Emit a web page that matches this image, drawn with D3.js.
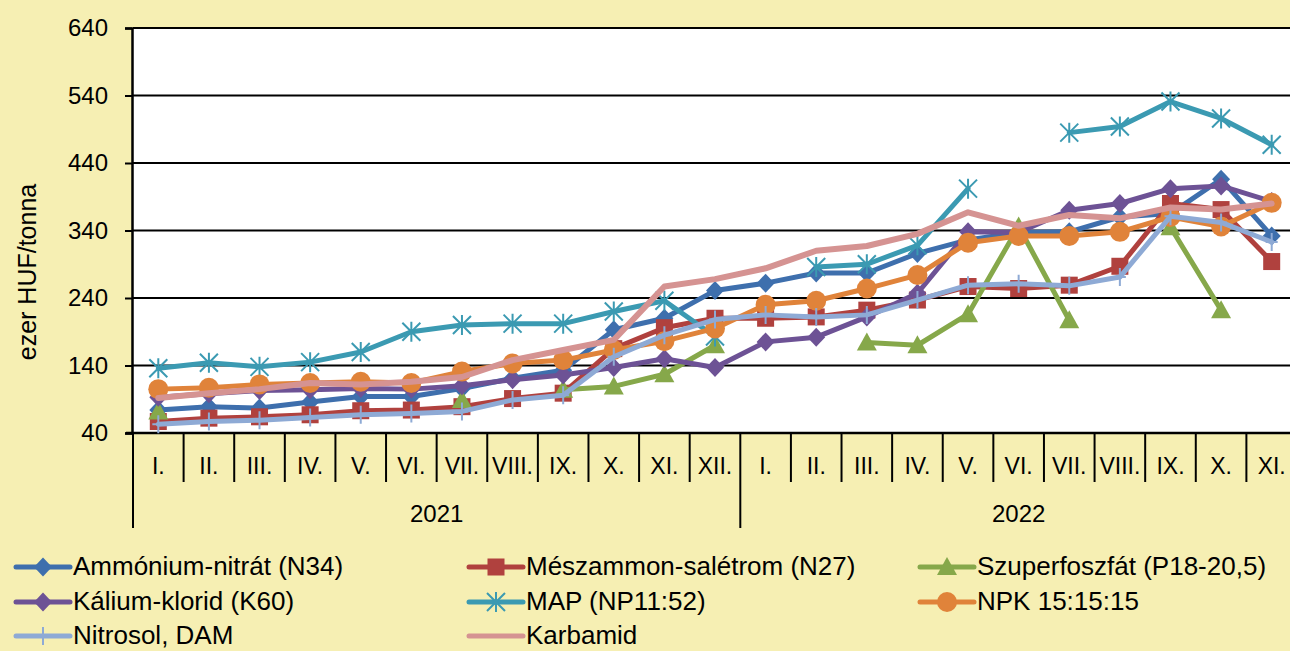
<!DOCTYPE html>
<html><head><meta charset="utf-8">
<script src="https://cdn.jsdelivr.net/npm/d3@7"></script>
<style>
html,body{margin:0;padding:0;background:#F6EFB3;}
svg{display:block;font-family:"Liberation Sans",Arial,sans-serif;}
</style></head>
<body>
<svg id="chart" width="1290" height="651"></svg>
<script>
const months = ["I.","II.","III.","IV.","V.","VI.","VII.","VIII.","IX.","X.","XI.","XII.",
                "I.","II.","III.","IV.","V.","VI.","VII.","VIII.","IX.","X.","XI."];
const years = [{label:"2021", start:0, end:12},{label:"2022", start:12, end:23}];
const yTicks = [40,140,240,340,440,540,640];

const ammonium   = [74,79,77,86,94,94,106,121,133,193,210,251, 262,277,277,306,326,337,338,360,365,416,332];
const meszammon  = [57,62,64,67,73,74,79,91,99,165,196,210, 210,212,222,237,257,254,259,287,380,371,294];
const szuper     = [72,null,null,null,null,null,89,null,104,109,127,170, null,null,174,170,216,346,207,null,345,222,null];
const kalium     = [93,98,103,104,106,105,110,119,126,137,150,137, 175,182,212,247,338,337,370,380,402,406,383];
const map        = [136,144,138,145,160,190,200,202,202,220,236,183, null,286,290,318,402,null,485,494,531,506,467];
const npk        = [105,107,112,114,116,114,131,143,148,163,176,195, 230,236,254,274,322,332,332,338,360,346,381];
const nitrosol   = [53,57,59,63,67,69,72,89,96,153,185,208, 215,212,215,237,259,261,258,271,361,352,323];
const karbamid   = [92,99,105,114,112,116,123,148,163,178,257,268, 284,310,317,335,367,347,363,358,374,371,380];

const seriesNames = ["Ammónium-nitrát (N34)","Mészammon-salétrom (N27)","Szuperfoszfát (P18-20,5)",
  "Kálium-klorid (K60)","MAP (NP11:52)","NPK 15:15:15","Nitrosol, DAM","Karbamid"];
const seriesData = [ammonium, meszammon, szuper, kalium, map, npk, nitrosol, karbamid];
const seriesColors = ["#3E6FAD","#B0413E","#86A84A","#6D5295","#3B9AB2","#E0833A","#8EAAD5","#D59392"];
const seriesMarkers = ["diamond","square","triangle","diamond","star","circle","plus","none"];

const svg = d3.select("#chart");
const pLeft = 133, pRight = 1297, pTop = 28, pBottom = 433;

const x = d3.scaleBand().domain(d3.range(months.length)).range([pLeft, pRight]);
const y = d3.scaleLinear().domain([40, 640]).range([pBottom, pTop]);
const cx = i => x(i) + x.bandwidth()/2;

// plot area
svg.append("rect").attr("x", pLeft).attr("y", pTop).attr("width", pRight-pLeft).attr("height", pBottom-pTop).attr("fill", "#fff");

// gridlines
svg.append("g").selectAll("line").data(yTicks.slice(1)).join("line")
  .attr("x1", pLeft).attr("x2", pRight).attr("y1", d=>y(d)).attr("y2", d=>y(d))
  .attr("stroke", "#000").attr("stroke-width", 2);

// y axis
const yAxis = d3.axisLeft(y).tickValues(yTicks).tickSize(7).tickPadding(17).tickFormat(d3.format("d"));
const gy = svg.append("g").attr("transform", `translate(${pLeft-1},0)`).call(yAxis);
gy.attr("font-size", null).attr("font-family", null);
gy.select(".domain").attr("stroke", "#000").attr("stroke-width", 2.5);
gy.selectAll(".tick line").attr("stroke", "#000").attr("stroke-width", 2);
gy.selectAll("text").style("font-size", "24px").attr("fill", "#000");

// x axis base
svg.append("line").attr("x1", pLeft-7).attr("x2", pRight).attr("y1", pBottom).attr("y2", pBottom)
  .attr("stroke", "#000").attr("stroke-width", 2.5);

// month separators
const bounds = d3.range(months.length + 1);
svg.append("g").selectAll("line").data(bounds).join("line")
  .attr("x1", i => i < months.length ? x(i) : pRight).attr("x2", i => i < months.length ? x(i) : pRight)
  .attr("y1", pBottom).attr("y2", i => (i===0 || i===12 || i===23) ? 528 : 482)
  .attr("stroke", "#000").attr("stroke-width", 2);

svg.append("g").selectAll("text").data(months).join("text")
  .attr("x", (d,i) => cx(i)).attr("y", 474).attr("text-anchor", "middle")
  .style("font-size", "23px").attr("fill", "#000").text(d => d);

svg.append("g").selectAll("text").data(years).join("text")
  .attr("x", d => (x(d.start) + (d.end < months.length ? x(d.end) : pRight))/2).attr("y", 522)
  .attr("text-anchor", "middle").style("font-size", "24px").attr("fill", "#000").text(d => d.label);

// y title
svg.append("text").attr("transform", "translate(36,272) rotate(-90)").attr("text-anchor", "middle")
  .style("font-size", "25px").attr("fill", "#000").text("ezer HUF/tonna");

// markers
function drawMarker(g, type, px, py, color) {
  if (type === "diamond") {
    g.append("path").attr("d", `M${px},${py-9.5}L${px+9},${py}L${px},${py+9.5}L${px-9},${py}Z`).attr("fill", color);
  } else if (type === "square") {
    g.append("rect").attr("x", px-8.5).attr("y", py-8.5).attr("width", 17).attr("height", 17).attr("fill", color);
  } else if (type === "triangle") {
    g.append("path").attr("d", `M${px},${py-10}L${px+10},${py+8}L${px-10},${py+8}Z`).attr("fill", color);
  } else if (type === "circle") {
    g.append("circle").attr("cx", px).attr("cy", py).attr("r", 10).attr("fill", color);
  } else if (type === "star") {
    const s = 9;
    g.append("path").attr("d", `M${px-s},${py-s}L${px+s},${py+s}M${px-s},${py+s}L${px+s},${py-s}M${px},${py-s-1}L${px},${py+s+1}`)
      .attr("stroke", color).attr("stroke-width", 2).attr("fill", "none");
  } else if (type === "plus") {
    g.append("path").attr("d", `M${px},${py-9}L${px},${py+9}M${px-6},${py}L${px+6},${py}`)
      .attr("stroke", color).attr("stroke-width", 2).attr("fill", "none");
  }
}

const line = d3.line().defined(d => d.v !== null).x(d => cx(d.i)).y(d => y(d.v));

seriesData.forEach((arr, k) => {
  const g = svg.append("g");
  const pts = arr.map((v,i) => ({i, v}));
  g.append("path").datum(pts).attr("d", line).attr("fill", "none")
    .attr("stroke", seriesColors[k]).attr("stroke-width", k === 7 ? 6 : 5)
    .attr("stroke-linejoin", "round").attr("stroke-linecap", "round");
  pts.filter(p => p.v !== null).forEach(p => drawMarker(g, seriesMarkers[k], cx(p.i), y(p.v), seriesColors[k]));
});

// legend
const legCols = [14, 467, 918];
const legRows = [567, 602, 636];
seriesNames.forEach((name, k) => {
  const lx = legCols[k % 3], ly = legRows[Math.floor(k / 3)];
  const g = svg.append("g");
  g.append("line").attr("x1", lx+2).attr("x2", lx+56).attr("y1", ly).attr("y2", ly)
    .attr("stroke", seriesColors[k]).attr("stroke-width", 5).attr("stroke-linecap", "round");
  drawMarker(g, seriesMarkers[k], lx+29, ly, seriesColors[k]);
  g.append("text").attr("x", lx+59).attr("y", ly+8).style("font-size", "26px").attr("fill", "#000").text(name);
});
</script>
</body></html>
